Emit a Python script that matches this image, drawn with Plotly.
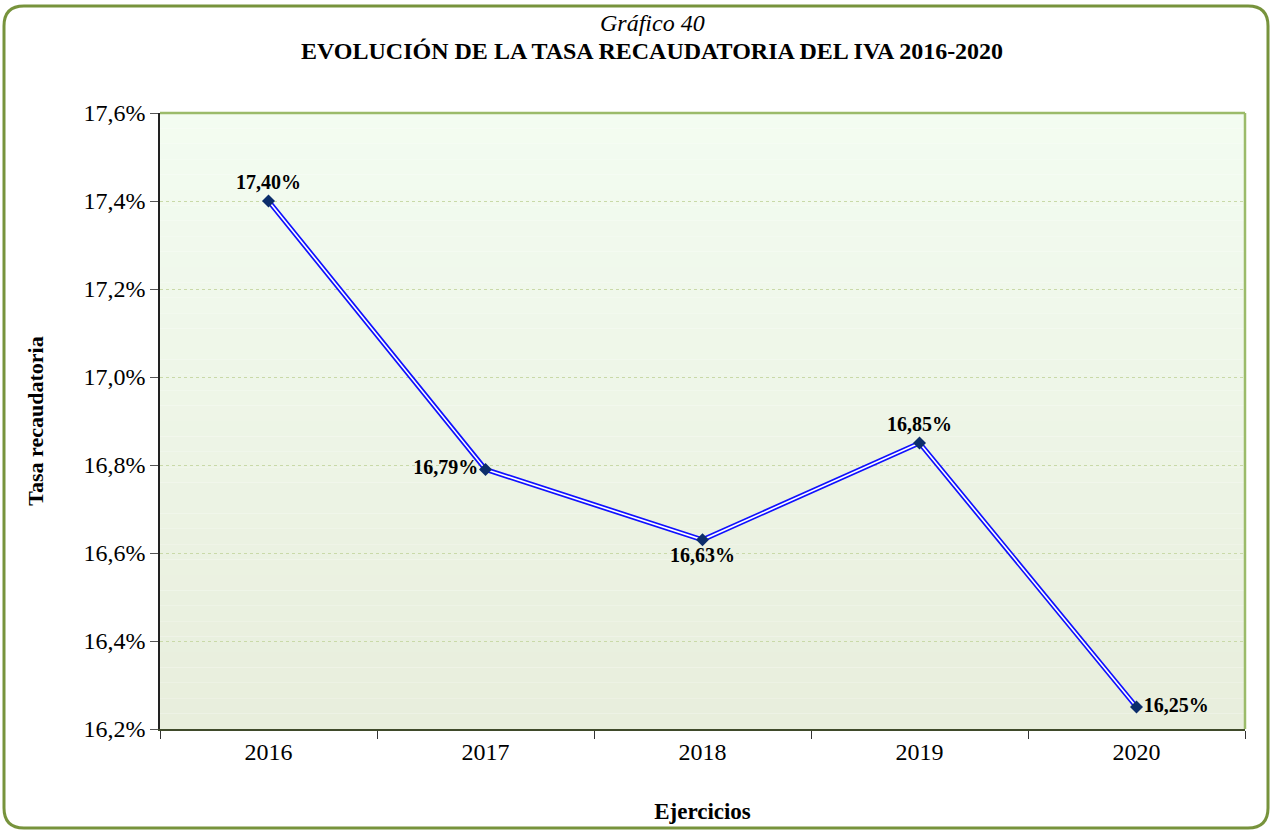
import plotly.graph_objects as go

# tasa recaudatoria del IVA por ejercicio
years = ['2016', '2017', '2018', '2019', '2020']
tasa = [0.1740, 0.1679, 0.1663, 0.1685, 0.1625]
label_pos = ['top center', 'middle left', 'bottom center', 'top center', 'middle right']

W, H = 1271, 832
L, R, T, B = 160, 26, 113, 103
pw, ph = W - L - R, H - T - B

def px_x(v):
    return (v - L) / pw

def px_y(v):
    return (H - B - v) / ph

fig = go.Figure()

# double line: thick blue with a thin white core
fig.add_trace(go.Scatter(x=years, y=tasa, mode='lines',
                         line=dict(color='#1010ff', width=5), hoverinfo='skip'))
fig.add_trace(go.Scatter(x=years, y=tasa, mode='lines+markers+text',
                         line=dict(color='white', width=1.6),
                         marker=dict(symbol='diamond', size=10, color='#0c2d6b'),
                         text=tasa, texttemplate='%{y:.2%}',
                         textposition=label_pos,
                         textfont=dict(family='Liberation Serif', size=20, color='black', weight='bold')))

# vertical gradient for the plot area
shapes = []
n = 40
c0 = (243, 252, 241)
c1 = (232, 238, 220)
for i in range(n):
    t = i / (n - 1)
    c = tuple(round(c0[k] + (c1[k] - c0[k]) * t) for k in range(3))
    shapes.append(dict(type='rect', xref='x domain', yref='y domain',
                       x0=0, x1=1, y0=1 - (i + 1) / n, y1=1 - i / n,
                       fillcolor='rgb(%d,%d,%d)' % c, line=dict(width=0), layer='below'))

# green top/right border of plot area
shapes.append(dict(type='line', xref='x domain', yref='y domain', x0=0, x1=1, y0=1, y1=1,
                   line=dict(color='#9bbb6a', width=2.5)))
shapes.append(dict(type='line', xref='x domain', yref='y domain', x0=1, x1=1, y0=0, y1=1,
                   line=dict(color='#9bbb6a', width=2.5)))

# rounded outer frame
x0, x1, y0, y1, r = 4, 1268, 6, 828, 20
path = ('M {a},{b} L {c},{b} Q {x1},{b} {x1},{d} L {x1},{e} Q {x1},{f} {c},{f} '
        'L {a},{f} Q {x0},{f} {x0},{e} L {x0},{d} Q {x0},{b} {a},{b} Z').format(
    a=px_x(x0 + r), c=px_x(x1 - r), b=px_y(y0), f=px_y(y1),
    d=px_y(y0 + r), e=px_y(y1 - r), x0=px_x(x0), x1=px_x(x1))
shapes.append(dict(type='path', xref='paper', yref='paper', path=path,
                   line=dict(color='#77933c', width=3)))

fig.update_layout(
    width=W, height=H,
    margin=dict(l=L, r=R, t=T, b=B),
    paper_bgcolor='white',
    plot_bgcolor='rgba(0,0,0,0)',
    separators=',.',
    showlegend=False,
    shapes=shapes,
    font=dict(family='Liberation Serif', color='black'),
    annotations=[
        dict(text='<i>Gráfico 40</i>', xref='paper', yref='paper',
             x=px_x(652), y=px_y(23), yanchor='middle', showarrow=False, font=dict(size=24)),
        dict(text='<b>EVOLUCIÓN DE LA TASA RECAUDATORIA DEL IVA 2016-2020</b>',
             xref='paper', yref='paper', x=px_x(652), y=px_y(51), yanchor='middle',
             showarrow=False, font=dict(size=24)),
    ],
)

fig.update_xaxes(type='category', range=[-0.5, 4.5], tickson='boundaries',
                 ticks='outside', ticklen=8, tickcolor='#333', tickfont=dict(size=24),
                 showline=True, linecolor='#3f4a2a', linewidth=1.5, showgrid=False,
                 title=dict(text='<b>Ejercicios</b>', font=dict(size=23), standoff=39))
fig.update_yaxes(range=[0.162, 0.176], dtick=0.002, tickformat='.1%',
                 ticks='outside', ticklen=8, tickcolor='#555', tickfont=dict(size=24),
                 showline=True, linecolor='#222', linewidth=1.5,
                 showgrid=True, gridcolor='#c9d9a8', griddash='dot', gridwidth=1,
                 zeroline=False,
                 title=dict(text='<b>Tasa recaudatoria</b>', font=dict(size=22), standoff=34))

fig.write_html('out.html', config={'displayModeBar': False},
               post_script="document.body.style.margin='0';")
